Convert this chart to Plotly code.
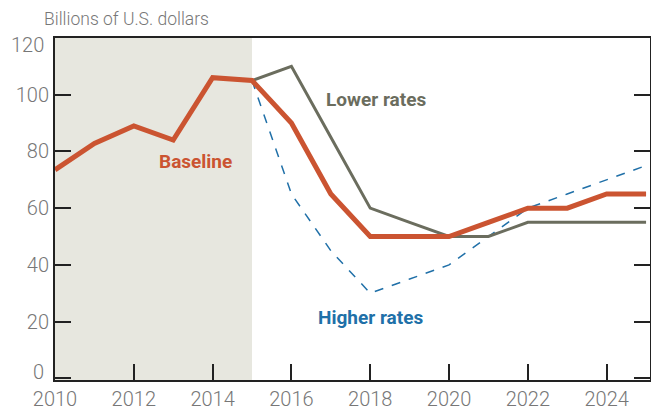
import plotly.graph_objects as go

years = list(range(2010, 2026))
baseline = [73.5, 82.8, 89, 84, 106, 105, 90, 65, 50, 50, 50, 55, 60, 60, 65, 65]
proj_years = list(range(2015, 2026))
lower_rates = [105, 110, 85, 60, 55, 50, 50, 55, 55, 55, 55]
higher_rates = [105, 65, 45, 30, 35, 40, 50, 60, 65, 70, 75]
x_ticks = list(range(2010, 2025, 2))
y_ticks = [0, 20, 40, 60, 80, 100, 120]

ORANGE = "#CB5431"
GRAY = "#6B6D5E"
BLUE = "#2070A8"
SHADE = "#E7E7DF"
LABEL = "#777777"

fig = go.Figure()
fig.add_trace(go.Scatter(x=proj_years, y=higher_rates, mode="lines",
                         line=dict(color=BLUE, width=1.5, dash="dash"), name="Higher rates"))
fig.add_trace(go.Scatter(x=proj_years, y=lower_rates, mode="lines",
                         line=dict(color=GRAY, width=3), name="Lower rates"))
fig.add_trace(go.Scatter(x=years, y=baseline, mode="lines",
                         line=dict(color=ORANGE, width=5), name="Baseline"))

fig.add_shape(type="rect", xref="x", yref="paper", x0=2010, x1=2015, y0=0, y1=1,
              fillcolor=SHADE, line=dict(width=0), layer="below")

fig.add_annotation(x=2014.55, y=76.3, text="<b>Baseline</b>", showarrow=False,
                   xanchor="right", font=dict(color=ORANGE, size=19, family="Roboto"))
fig.add_annotation(x=2016.82, y=98.2, text="<b>Lower rates</b>", showarrow=False,
                   xanchor="left", font=dict(color=GRAY, size=19, family="Roboto"))
fig.add_annotation(x=2016.62, y=21.4, text="<b>Higher rates</b>", showarrow=False,
                   xanchor="left", font=dict(color=BLUE, size=19, family="Roboto"))
fig.add_annotation(xref="paper", yref="paper", x=-0.022, y=1.0, yshift=19,
                   xanchor="left", yanchor="middle", text="Billions of U.S. dollars",
                   showarrow=False, font=dict(color=LABEL, size=17.5, family="Roboto", weight=300))

# end tick labels (0 and 120) are nudged inward in the reference
y_ticktext = ["" if v in (y_ticks[0], y_ticks[-1]) else str(v) for v in y_ticks]
for v, shift in ((y_ticks[0], 6), (y_ticks[-1], -7)):
    fig.add_annotation(xref="paper", yref="y", x=0, y=v, xshift=-9, yshift=shift,
                       xanchor="right", yanchor="middle", text=str(v), showarrow=False,
                       font=dict(color=LABEL, size=20, family="Roboto", weight=300))

fig.update_layout(
    width=651, height=411,
    margin=dict(l=55, r=1, t=38, b=31),
    plot_bgcolor="white", paper_bgcolor="white",
    showlegend=False,
    font=dict(family="Roboto", color=LABEL, size=20, weight=300),
)
fig.update_xaxes(range=[2010, 2025.1], tickvals=x_ticks, ticks="inside", ticklen=16,
                 tickwidth=2, tickcolor="#222222", showgrid=False, zeroline=False,
                 showline=True, linecolor="#222222", linewidth=2, mirror=True,
                 automargin=False, tickfont=dict(size=20, color=LABEL))
fig.update_yaxes(range=[-0.6, 120], tickvals=y_ticks, ticktext=y_ticktext,
                 ticks="inside", ticklen=16,
                 tickwidth=2, tickcolor="#222222", showgrid=False, zeroline=False,
                 showline=True, linecolor="#222222", linewidth=2, mirror="ticks",
                 automargin=False, tickfont=dict(size=20, color=LABEL))

fig.write_html("out.html", config={"displayModeBar": False},
               post_script="document.body.style.margin='0';document.body.style.overflow='hidden';")
